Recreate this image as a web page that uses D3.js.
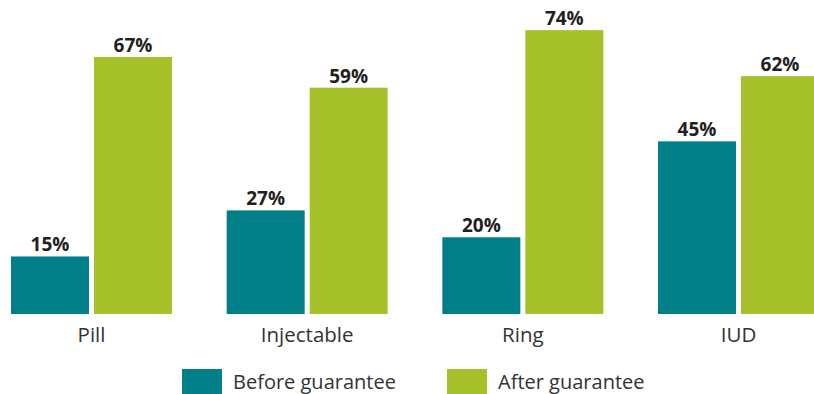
<!DOCTYPE html>
<html>
<head>
<meta charset="utf-8">
<script src="https://cdn.jsdelivr.net/npm/d3@7"></script>
<style>
  body { margin: 0; background: #fff; }
  text { font-family: "Open Sans", sans-serif; }
</style>
</head>
<body>
<div id="chart"></div>
<script>
var categories = ["Pill", "Injectable", "Ring", "IUD"];
var seriesNames = ["Before guarantee", "After guarantee"];
var beforeValues = [15, 27, 20, 45];
var afterValues = [67, 59, 74, 62];
var colors = ["#007f88", "#a6c12a"];

function renderChart() {
    var width = 814, height = 394;
    var baseline = 314;

    var svg = d3.select("#chart").append("svg")
        .attr("width", width)
        .attr("height", height);

    var x0 = d3.scaleBand()
        .domain(categories)
        .range([11, 819])
        .paddingInner(0.2535)
        .paddingOuter(0);

    var x1 = d3.scaleBand()
        .domain(seriesNames)
        .range([0, x0.bandwidth()])
        .paddingInner(0.06);

    var y = d3.scaleLinear()
        .domain([0, 100])
        .range([baseline, baseline - 383.6]);

    var rows = categories.map(function(c, i) {
        return {cat: c, vals: [beforeValues[i], afterValues[i]]};
    });

    var groups = svg.selectAll(".group")
        .data(rows)
        .enter().append("g")
        .attr("class", "group")
        .attr("transform", function(d) { return "translate(" + x0(d.cat) + ",0)"; });

    var bars = groups.selectAll(".bar")
        .data(function(d) { return d.vals.map(function(v, j) { return {s: seriesNames[j], v: v, j: j}; }); })
        .enter();

    bars.append("rect")
        .attr("class", "bar")
        .attr("x", function(d) { return x1(d.s); })
        .attr("y", function(d) { return y(d.v); })
        .attr("width", x1.bandwidth())
        .attr("height", function(d) { return baseline - y(d.v); })
        .style("fill", function(d) { return colors[d.j]; });

    bars.append("text")
        .attr("x", function(d) { return x1(d.s) + x1.bandwidth() / 2; })
        .attr("y", function(d) { return y(d.v) - 5; })
        .attr("text-anchor", "middle")
        .style("font-size", "19px")
        .style("font-weight", "bold")
        .style("fill", "#231f20")
        .text(function(d) { return d.v + "%"; });

    // category axis, no line
    var xAxis = d3.axisBottom(x0).tickSize(0).tickPadding(0);
    var ax = svg.append("g")
        .attr("transform", "translate(0," + baseline + ")")
        .call(xAxis);
    ax.select(".domain").remove();
    ax.selectAll("text")
        .attr("dy", null)
        .attr("y", 28)
        .style("font-family", "'Open Sans', sans-serif")
        .style("font-size", "20.5px")
        .style("fill", "#333");

    // legend
    var legendX = [182, 447];
    var legend = svg.selectAll(".legend")
        .data(seriesNames)
        .enter().append("g")
        .attr("class", "legend")
        .attr("transform", function(d, i) { return "translate(" + legendX[i] + ",369)"; });

    legend.append("rect")
        .attr("width", 40)
        .attr("height", 25)
        .style("fill", function(d, i) { return colors[i]; });

    legend.append("text")
        .attr("x", 51)
        .attr("y", 19.5)
        .style("font-size", "20px")
        .style("fill", "#333")
        .text(function(d) { return d; });
}

renderChart();
</script>
</body>
</html>
